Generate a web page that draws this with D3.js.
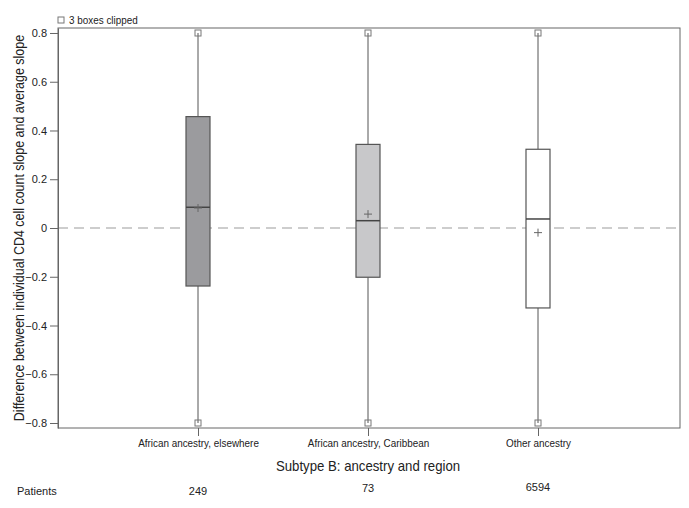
<!DOCTYPE html>
<html>
<head>
<meta charset="utf-8">
<script src="https://cdn.jsdelivr.net/npm/d3@7"></script>
<style>
  body { margin: 0; background: #fff; }
  text { font-family: "Liberation Sans", Arial, sans-serif; fill: #222; }
</style>
</head>
<body>
<svg id="chart"></svg>
<script>
// data
const categories = ["African ancestry, elsewhere", "African ancestry, Caribbean", "Other ancestry"];
const patients = [249, 73, 6594];
const q1 = [-0.238, -0.202, -0.328];
const medians = [0.085, 0.030, 0.037];
const q3 = [0.457, 0.343, 0.323];
const means = [0.082, 0.057, -0.019];
const whiskerLow = [-0.8, -0.8, -0.8];
const whiskerHigh = [0.8, 0.8, 0.8];
const fills = ["#9b9b9e", "#c8c8ca", "#ffffff"];
const yTicks = [-0.8, -0.6, -0.4, -0.2, 0, 0.2, 0.4, 0.6, 0.8];

const width = 689, height = 508;
const margin = { top: 28, right: 9, bottom: 80, left: 58 };
const innerW = width - margin.left - margin.right;
const innerH = height - margin.top - margin.bottom;

// narrow the text a bit, the original uses a condensed face
function condense(sel, factor) {
  sel.each(function () {
    const len = this.getComputedTextLength();
    d3.select(this).attr("textLength", len * factor).attr("lengthAdjust", "spacingAndGlyphs");
  });
}

const svg = d3.select("#chart").attr("width", width).attr("height", height);
const chart = svg.append("g").attr("transform", `translate(${margin.left}, ${margin.top})`);

const xscale = d3.scalePoint().domain(categories).range([140, 480]);
const yscale = d3.scaleLinear().domain([-0.8205, 0.8205]).range([innerH, 0]);

// zero reference line
chart.append("line")
  .attr("x1", 0).attr("x2", innerW)
  .attr("y1", yscale(0)).attr("y2", yscale(0))
  .attr("stroke", "#bdbdbd").attr("stroke-width", 1.5)
  .attr("stroke-dasharray", "10,6");

// frame
chart.append("rect")
  .attr("width", innerW).attr("height", innerH)
  .attr("fill", "none").attr("stroke", "#666").attr("stroke-width", 1);

// axes
const yaxis = d3.axisLeft(yscale).tickValues(yTicks).tickSize(8).tickSizeOuter(0)
  .tickFormat((d) => d === 0 ? "0" : d3.format(".1f")(d));
const yg = chart.append("g").call(yaxis);
yg.select(".domain").attr("stroke", "#666");
yg.selectAll(".tick line").attr("stroke", "#666");
yg.selectAll(".tick text").attr("font-size", 11).attr("x", -11);

const xaxis = d3.axisBottom(xscale).tickSize(8).tickSizeOuter(0).tickPadding(3);
const xg = chart.append("g").attr("transform", `translate(0, ${innerH})`).call(xaxis);
xg.select(".domain").remove();
xg.selectAll(".tick line").attr("stroke", "#666");
xg.selectAll(".tick text").attr("font-size", 11.5).call(condense, 0.86);

// boxes
const data = categories.map((c, i) => ({
  cat: c, q1: q1[i], med: medians[i], q3: q3[i], mean: means[i],
  lo: whiskerLow[i], hi: whiskerHigh[i], fill: fills[i], n: patients[i],
}));
const boxW = 24;
const g = chart.selectAll(".box").data(data).join("g").attr("class", "box")
  .attr("transform", (d) => `translate(${xscale(d.cat)}, 0)`);

g.append("line").attr("x1", 0).attr("x2", 0)
  .attr("y1", (d) => yscale(d.hi)).attr("y2", (d) => yscale(d.q3))
  .attr("stroke", "#555");
g.append("line").attr("x1", 0).attr("x2", 0)
  .attr("y1", (d) => yscale(d.q1)).attr("y2", (d) => yscale(d.lo))
  .attr("stroke", "#555");
g.append("rect")
  .attr("x", -boxW / 2).attr("width", boxW)
  .attr("y", (d) => yscale(d.q3))
  .attr("height", (d) => yscale(d.q1) - yscale(d.q3))
  .attr("fill", (d) => d.fill).attr("stroke", "#555").attr("stroke-width", 1.2);
g.append("line").attr("x1", -boxW / 2).attr("x2", boxW / 2)
  .attr("y1", (d) => yscale(d.med)).attr("y2", (d) => yscale(d.med))
  .attr("stroke", "#444").attr("stroke-width", 1.5);
// mean markers
g.append("path")
  .attr("d", (d) => `M-4,${yscale(d.mean)}h8M0,${yscale(d.mean) - 4}v8`)
  .attr("stroke", "#666").attr("stroke-width", 1);
// clipped markers
["hi", "lo"].forEach((k) => {
  g.append("rect")
    .attr("x", -3).attr("y", (d) => yscale(d[k]) - 3)
    .attr("width", 6).attr("height", 6)
    .attr("fill", "none").attr("stroke", "#777").attr("stroke-width", 1);
});

// legend note
svg.append("rect").attr("x", 58).attr("y", 17).attr("width", 6).attr("height", 6)
  .attr("fill", "none").attr("stroke", "#777");
svg.append("text").attr("x", 69).attr("y", 24).attr("font-size", 11)
  .text("3 boxes clipped").call(condense, 0.9);

// titles
svg.append("text")
  .attr("transform", `translate(24, ${margin.top + yscale(0)}) rotate(-90)`)
  .attr("text-anchor", "middle").attr("font-size", 14)
  .text("Difference between individual CD4 cell count slope and average slope")
  .call(condense, 0.89);
svg.append("text")
  .attr("x", margin.left + xscale(categories[1])).attr("y", 471)
  .attr("text-anchor", "middle").attr("font-size", 15)
  .text("Subtype B: ancestry and region").call(condense, 0.88);

// patients row
svg.append("text").attr("x", 17).attr("y", 495).attr("font-size", 11).text("Patients");
svg.selectAll(".npat").data(data).join("text").attr("class", "npat")
  .attr("x", (d) => margin.left + xscale(d.cat)).attr("y", (d, i) => [495, 492, 491][i])
  .attr("text-anchor", "middle").attr("font-size", 11)
  .text((d) => d.n);
</script>
</body>
</html>
